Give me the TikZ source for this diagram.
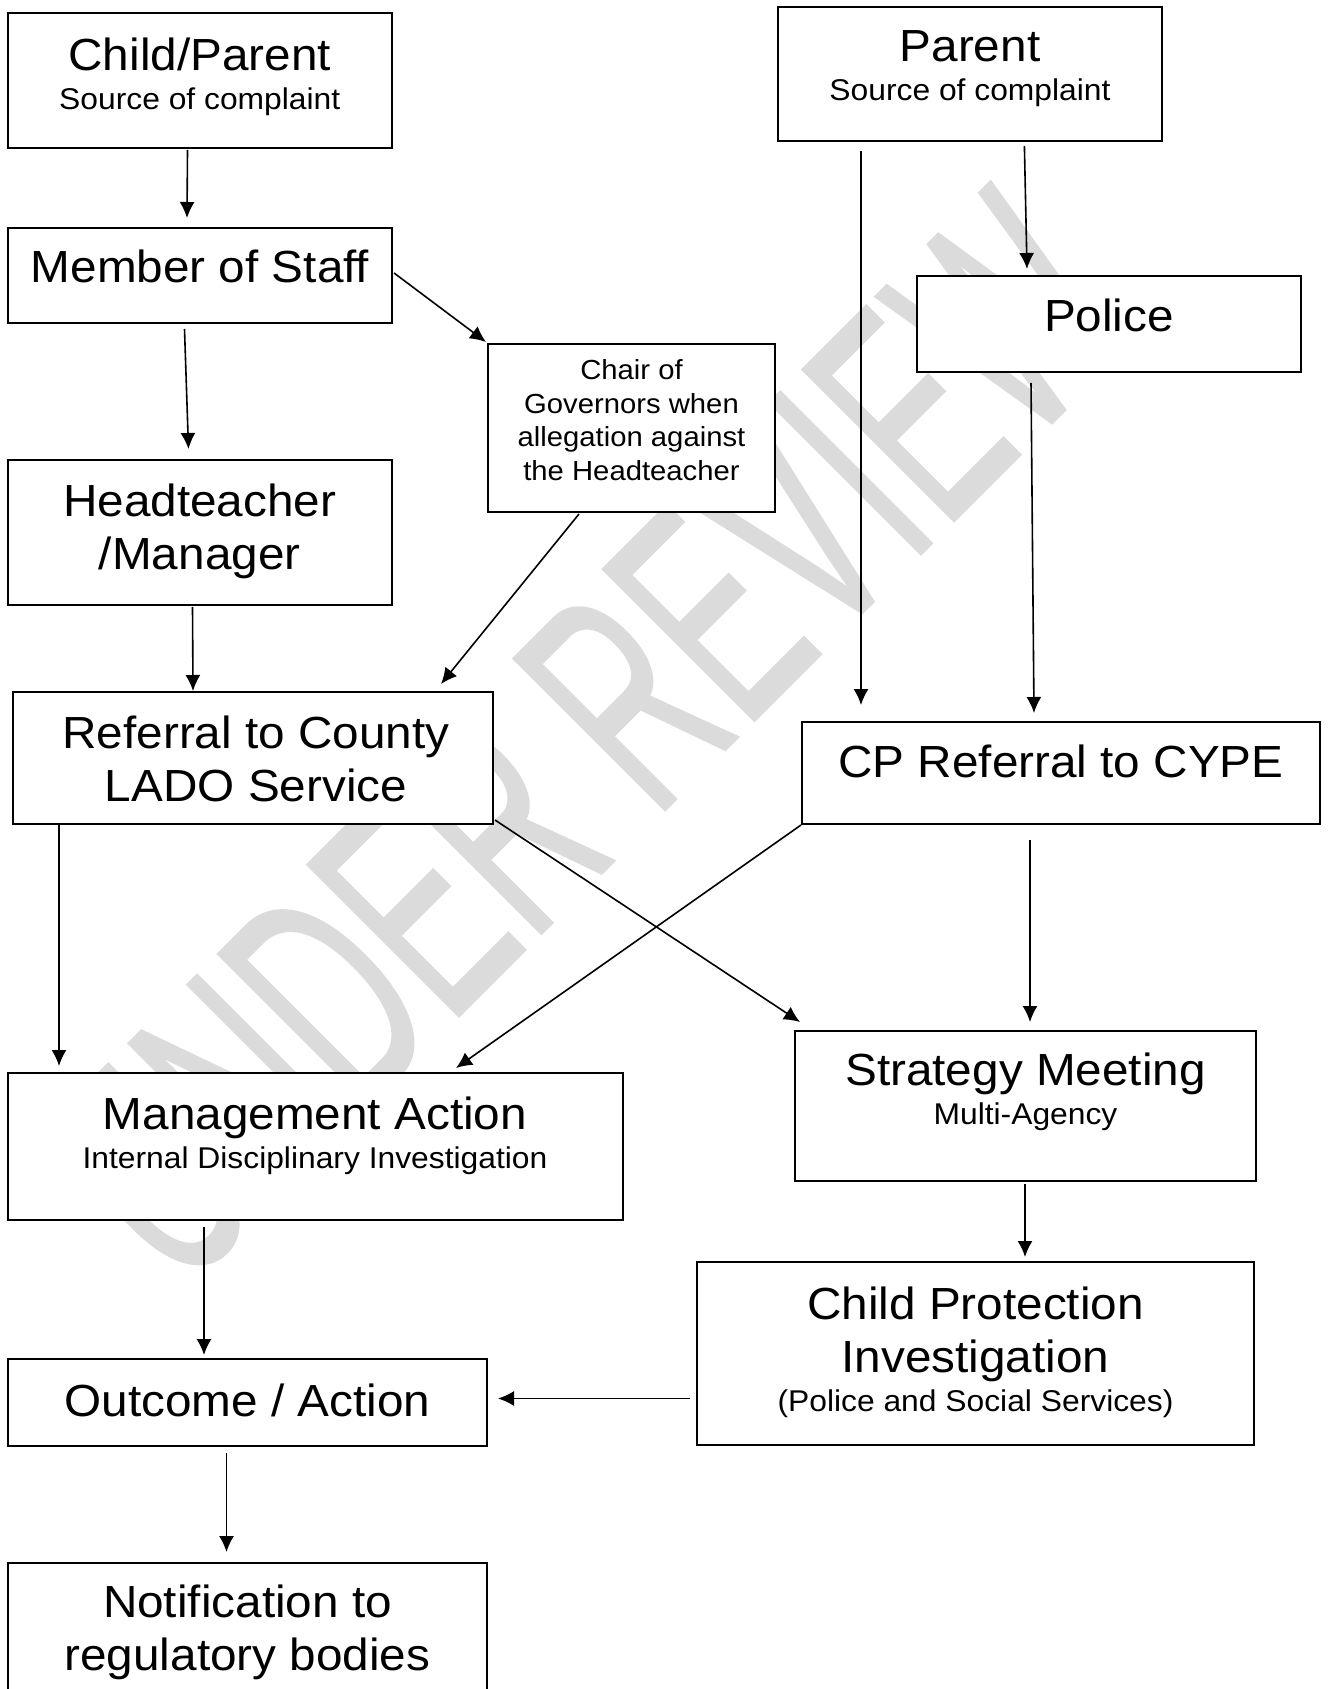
\documentclass[tikz,border=0pt]{standalone}
\usepackage{fontspec}
\setmainfont{Liberation Sans}[FakeStretch=1.06]
\newfontfamily\wmfont{Liberation Sans}[FakeBold=0.8]
\usetikzlibrary{arrows.meta,calc,fit}

\newcommand{\subline}[1]{{\fontsize{15}{18}\selectfont #1}}

\tikzset{
  boxnode/.style={draw,line width=1pt,fill=white,inner sep=0pt},
  bigtxt/.style={font=\fontsize{22.5}{26.5}\selectfont,align=center,inner sep=0pt},
  bigsub/.style={font=\fontsize{22.5}{19.5}\selectfont,align=center,inner sep=0pt},
  chairtxt/.style={font=\fontsize{13.8}{16.85}\selectfont,align=center,inner sep=0pt},
  arr/.style={-{Latex[length=8pt,width=7.5pt]},line width=0.8pt}
}

\begin{document}
\begin{tikzpicture}[x=0.5pt,y=-0.5pt]
\useasboundingbox (0,0) rectangle (1328,1689);
\clip (0,0) rectangle (1328,1689);
\fill[white] (0,0) rectangle (1328,1689);

% watermark
\node[rotate=45,anchor=base west,inner sep=0pt,text=black!14] (wm) at (180,1295)
  {\resizebox{680.5pt}{107pt}{\wmfont UNDER REVIEW}};

% boxes, left column
\node[boxnode,fit={(7.5,13) (392,148)}] (child) {};
\node[boxnode,fit={(7.5,228) (392,323)}] (staff) {};
\node[boxnode,fit={(488,344) (775,512)}] (chair) {};
\node[boxnode,fit={(7.5,460) (392,605)}] (head) {};
\node[boxnode,fit={(13,692) (493,824)}] (lado) {};
\node[boxnode,fit={(7.5,1073) (622.5,1220)}] (mgmt) {};
\node[boxnode,fit={(7.5,1359) (487,1446)}] (outc) {};
\node[boxnode,fit={(7.5,1563) (487,1720)}] (notif) {};

% boxes, right column
\node[boxnode,fit={(778,7.5) (1162,141)}] (parent) {};
\node[boxnode,fit={(917,276) (1301,372)}] (police) {};
\node[boxnode,fit={(802,722) (1320,824)}] (cpref) {};
\node[boxnode,fit={(795,1031) (1256,1181)}] (strat) {};
\node[boxnode,fit={(697,1262) (1254,1445)}] (cpi) {};

% texts
\node[bigsub] (childT) at (199.75,76.5) {Child/Parent\\\subline{Source of complaint}};
\node[bigtxt] (staffT) at (200,266) {Member of Staff};
\node[chairtxt] (chairT) at (631.5,420) {Chair of\\Governors when\\allegation against\\the Headteacher};
\node[bigtxt] (headT) at (199.75,531.5) {Headteacher\\/Manager};
\node[bigtxt] (ladoT) at (256,759) {Referral to County\\LADO Service};
\node[bigsub] (mgmtT) at (315,1135.5) {Management Action\\\subline{Internal Disciplinary Investigation}};
\node[bigtxt] (outcT) at (247.5,1400) {Outcome / Action};
\node[bigtxt] (notifT) at (247.5,1632.5) {Notification to\\regulatory bodies};
\node[bigsub] (parentT) at (970,68.5) {Parent\\\subline{Source of complaint}};
\node[bigtxt] (policeT) at (1109,315.5) {Police};
\node[bigtxt] (cprefT) at (1061,761) {CP Referral to CYPE};
\node[bigsub] (stratT) at (1025.5,1091.5) {Strategy Meeting\\\subline{Multi-Agency}};
\node[bigtxt] (cpiT) at (975.5,1352) {Child Protection\\Investigation\\[-7pt]\subline{(Police and Social Services)}};

% arrows
\draw[arr] ($(child.south west)+(181,1)$) -- ($(staff.north west)+(180.5,-9)$);
\draw[arr] ($(staff.south west)+(178,5)$) -- ($(head.north west)+(182,-10)$);
\draw[arr] ($(staff.east)+(1,-2.5)$) -- ($(chair.north west)+(-1,-1)$);
\draw[arr] ($(chair.south west)+(92,1)$) -- ($(lado.north west)+(429,-7)$);
\draw[arr] ($(head.south west)+(186,1)$) -- ($(lado.north west)+(181,0)$);
\draw[arr] ($(parent.south west)+(84,9)$) -- ($(cpref.north west)+(60,-16)$);
\draw[arr] ($(parent.south west)+(247.4,4)$) -- ($(police.north west)+(111,-6)$);
\draw[arr] ($(police.south west)+(115,10)$) -- ($(cpref.north west)+(233,-8)$);
\draw[arr] ($(lado.south west)+(47,0)$) -- ($(mgmt.north west)+(52.5,-6)$);
\draw[arr] ($(lado.south east)+(1,-5)$) -- ($(strat.north west)+(6,-8)$);
\draw[arr] (cpref.south west) -- ($(mgmt.north west)+(449.5,-4)$);
\draw[arr] ($(cpref.south west)+(229,15)$) -- ($(strat.north west)+(236,-8)$);
\draw[arr] ($(strat.south west)+(231,2)$) -- ($(cpi.north west)+(329,-4)$);
\draw[arr] ($(mgmt.south west)+(197.5,6)$) -- ($(outc.north west)+(197.5,-3)$);
\draw[arr] ($(cpi.south west)+(-6,-47.5)$) -- ($(outc.south east)+(10,-48.5)$);
\draw[arr] ($(outc.south west)+(220,6)$) -- ($(notif.north west)+(220,-10)$);

\end{tikzpicture}
\end{document}
